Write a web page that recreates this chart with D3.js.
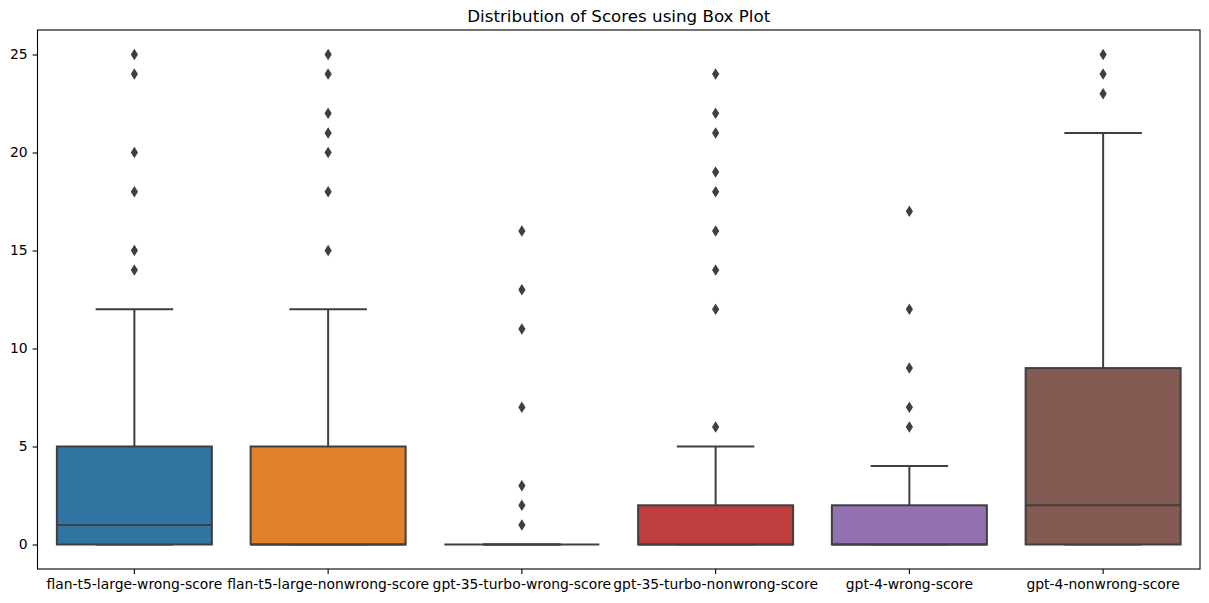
<!DOCTYPE html>
<html>
<head>
<meta charset="utf-8">
<script src="https://cdn.jsdelivr.net/npm/d3@7"></script>
<style>
  html, body { margin: 0; padding: 0; background: #fff; }
  svg { display: block; font-family: "DejaVu Sans", sans-serif; }
</style>
</head>
<body>
<svg id="chart" width="1209" height="603"></svg>
<script>
// ---- data ----
const categories = [
  "flan-t5-large-wrong-score",
  "flan-t5-large-nonwrong-score",
  "gpt-35-turbo-wrong-score",
  "gpt-35-turbo-nonwrong-score",
  "gpt-4-wrong-score",
  "gpt-4-nonwrong-score"
];
const q1Values      = [0, 0, 0, 0, 0, 0];
const medianValues  = [1, 0, 0, 0, 0, 2];
const q3Values      = [5, 5, 0, 2, 2, 9];
const whiskerLow    = [0, 0, 0, 0, 0, 0];
const whiskerHigh   = [12, 12, 0, 5, 4, 21];
const outlierValues = [
  [14, 15, 18, 20, 24, 25],
  [15, 18, 20, 21, 22, 24, 25],
  [1, 2, 3, 7, 11, 13, 16],
  [6, 12, 14, 16, 18, 19, 21, 22, 24],
  [6, 7, 9, 12, 17],
  [23, 24, 25]
];
const yTicks = [0, 5, 10, 15, 20, 25];
const palette = ["#3274a1", "#e1812c", "#3a923a", "#c03d3e", "#9372b2", "#845b53"];
const titleText = "Distribution of Scores using Box Plot";

// ---- layout ----
const plotLeft = 37.5, plotRight = 1200, plotTop = 30, plotBottom = 569;
const lineColor = "#3f3f3f";

const svg = d3.select("#chart");

const x = d3.scaleBand().domain(categories).range([plotLeft, plotRight]).paddingInner(0).paddingOuter(0);
const y = d3.scaleLinear().domain([-1.25, 26.25]).range([plotBottom, plotTop]);

const boxW = x.bandwidth() * 0.8;
const capW = boxW * 0.5;

const rows = categories.map((c, i) => ({
  cat: c, q1: q1Values[i], med: medianValues[i], q3: q3Values[i],
  lo: whiskerLow[i], hi: whiskerHigh[i], out: outlierValues[i], color: palette[i]
}));

const g = svg.append("g");
const cx = d => x(d.cat) + x.bandwidth() / 2;

rows.forEach(d => {
  const gg = g.append("g");
  gg.append("line").attr("x1", cx(d)).attr("x2", cx(d)).attr("y1", y(d.q1)).attr("y2", y(d.lo))
    .attr("stroke", lineColor).attr("stroke-width", 2);
  gg.append("line").attr("x1", cx(d)).attr("x2", cx(d)).attr("y1", y(d.q3)).attr("y2", y(d.hi))
    .attr("stroke", lineColor).attr("stroke-width", 2);
  [d.lo, d.hi].forEach(v => {
    gg.append("line").attr("x1", cx(d) - capW / 2).attr("x2", cx(d) + capW / 2)
      .attr("y1", y(v)).attr("y2", y(v))
      .attr("stroke", lineColor).attr("stroke-width", 2);
  });
  gg.append("rect")
    .attr("x", cx(d) - boxW / 2).attr("width", boxW)
    .attr("y", y(d.q3)).attr("height", Math.max(0, y(d.q1) - y(d.q3)))
    .attr("fill", d.color).attr("stroke", lineColor).attr("stroke-width", 2);
  gg.append("line").attr("x1", cx(d) - boxW / 2).attr("x2", cx(d) + boxW / 2)
    .attr("y1", y(d.med)).attr("y2", y(d.med))
    .attr("stroke", lineColor).attr("stroke-width", 2);
  const hh = 4.6, ww = 2.9;
  gg.selectAll("path.out").data(d.out).enter().append("path")
    .attr("class", "out")
    .attr("d", v => {
      const px = cx(d), py = y(v);
      return `M${px},${py - hh}L${px + ww},${py}L${px},${py + hh}L${px - ww},${py}Z`;
    })
    .attr("fill", lineColor).attr("stroke", lineColor).attr("stroke-width", 1.2);
});

const yAxis = d3.axisLeft(y).tickValues(yTicks).tickSize(4.9).tickPadding(4.9);
const yg = svg.append("g").attr("transform", `translate(${plotLeft},0)`).call(yAxis);
yg.select(".domain").remove();
yg.selectAll("text").attr("font-size", "13.9px").attr("fill", "#000").attr("font-family", "DejaVu Sans, sans-serif");
yg.selectAll("line").attr("stroke", "#000").attr("stroke-width", 1.1);

const xAxis = d3.axisBottom(x).tickSize(4.9).tickPadding(4.9);
const xg = svg.append("g").attr("transform", `translate(0,${plotBottom})`).call(xAxis);
xg.select(".domain").remove();
xg.selectAll("text").attr("font-size", "13.9px").attr("fill", "#000").attr("font-family", "DejaVu Sans, sans-serif");
xg.selectAll("line").attr("stroke", "#000").attr("stroke-width", 1.1);

svg.append("rect").attr("x", plotLeft).attr("y", plotTop).attr("width", plotRight - plotLeft).attr("height", plotBottom - plotTop)
  .attr("fill", "none").attr("stroke", "#000").attr("stroke-width", 1.1);

svg.append("text").attr("x", (plotLeft + plotRight) / 2).attr("y", 22)
  .attr("text-anchor", "middle").attr("font-size", "16.7px").attr("fill", "#000")
  .text(titleText);
</script>
</body>
</html>
